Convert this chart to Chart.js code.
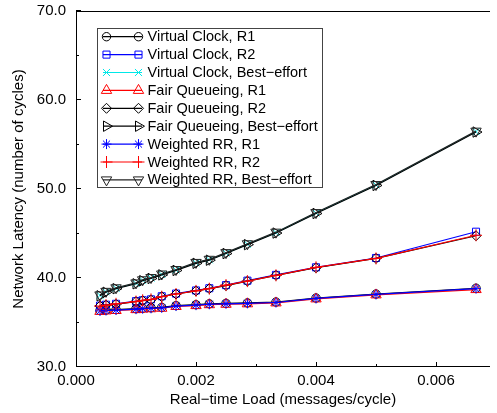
<!DOCTYPE html>
<html><head><meta charset="utf-8">
<script src="https://cdn.jsdelivr.net/npm/chart.js@4/dist/chart.umd.min.js"></script>
<style>html,body{margin:0;padding:0;background:#fff}#wrap{width:497px;height:413px;position:relative}</style>
</head><body><div id="wrap"><canvas id="c" width="497" height="413"></canvas></div>
<script>
// ---- data ----
const loads = [0.0004, 0.0005, 0.000667, 0.001, 0.001111, 0.00125, 0.001429, 0.001667, 0.002, 0.002222, 0.0025, 0.002857, 0.003333, 0.004, 0.005, 0.006667];
const vcR1  = [36.35, 36.4, 36.45, 36.55, 36.6, 36.65, 36.7, 36.9, 37.0, 37.1, 37.15, 37.2, 37.3, 37.75, 38.2, 38.85];
const vcR2  = [36.9, 37.0, 37.1, 37.4, 37.5, 37.6, 37.95, 38.25, 38.6, 38.85, 39.2, 39.7, 40.35, 41.2, 42.25, 45.2];
const vcBE  = [38.05, 38.45, 38.85, 39.4, 39.75, 40.0, 40.4, 40.9, 41.7, 42.05, 42.8, 43.8, 45.1, 47.3, 50.45, 56.45];
const fqR1  = [36.25, 36.3, 36.35, 36.45, 36.5, 36.55, 36.6, 36.8, 36.9, 37.0, 37.05, 37.1, 37.2, 37.65, 38.1, 38.7];
const fqR2  = [36.85, 36.95, 37.05, 37.35, 37.45, 37.55, 37.9, 38.2, 38.55, 38.8, 39.15, 39.65, 40.3, 41.15, 42.2, 44.75];
const fqBE  = [38.0, 38.4, 38.8, 39.35, 39.7, 39.95, 40.35, 40.85, 41.65, 42.0, 42.75, 43.75, 45.05, 47.25, 50.4, 56.4];
const wrrR1 = [36.3, 36.35, 36.4, 36.5, 36.55, 36.6, 36.65, 36.85, 36.95, 37.05, 37.1, 37.15, 37.25, 37.7, 38.15, 38.8];
const wrrR2 = [36.85, 36.95, 37.1, 37.35, 37.5, 37.6, 37.9, 38.2, 38.55, 38.8, 39.2, 39.65, 40.3, 41.2, 42.2, 44.8];
const wrrBE = [38.1, 38.5, 38.9, 39.45, 39.8, 40.05, 40.45, 40.95, 41.75, 42.1, 42.85, 43.85, 45.15, 47.35, 50.5, 56.5];
const seriesNames = ['Virtual Clock, R1','Virtual Clock, R2','Virtual Clock, Best\u2212effort',
  'Fair Queueing, R1','Fair Queueing, R2','Fair Queueing, Best\u2212effort',
  'Weighted RR, R1','Weighted RR, R2','Weighted RR, Best\u2212effort'];
const xTicks = [0, 0.002, 0.004, 0.006];
const xMinor = [0.001, 0.003, 0.005];
const yTicks = [30, 40, 50, 60, 70];
const yMinor = [35, 45, 55, 65];
const xTitle = 'Real\u2212time Load (messages/cycle)';
const yTitle = 'Network Latency (number of cycles)';

// ---- styles ----
const FONT = 'Liberation Sans, Arial, Helvetica, sans-serif';
const styles = [
  {c:'#000000', ps:'circle', r:4.2, rot:0},
  {c:'#0000ff', ps:'rect', r:5, rot:0},
  {c:'#00e8e8', ps:'crossRot', r:5, rot:0},
  {c:'#ff0000', ps:'triangle', r:6, rot:0},
  {c:'#000000', ps:'rectRot', r:5, rot:0},
  {c:'#000000', ps:'triangle', r:6, rot:90},
  {c:'#0000ff', ps:'star', r:5, rot:0},
  {c:'#ff0000', ps:'cross', r:6, rot:0},
  {c:'#222222', ps:'triangle', r:6, rot:180}
];
const values = [vcR1, vcR2, vcBE, fqR1, fqR2, fqBE, wrrR1, wrrR2, wrrBE];
const datasets = values.map((v,i)=>({
  label: seriesNames[i],
  data: loads.map((x,j)=>({x:x, y:v[j]})),
  borderColor: styles[i].c,
  backgroundColor: 'rgba(0,0,0,0)',
  pointBorderColor: styles[i].c,
  pointBackgroundColor: 'rgba(0,0,0,0)',
  pointStyle: styles[i].ps,
  pointRadius: styles[i].r,
  pointRotation: styles[i].rot,
  pointBorderWidth: 1,
  borderWidth: 1.2,
  tension: 0,
  fill: false,
  order: 8 - i
}));

const framePlugin = {
  id:'frame',
  beforeDatasetsDraw(chart){
    const ctx = chart.ctx, a = chart.chartArea, xs = chart.scales.x, ys = chart.scales.y;
    ctx.save();
    ctx.strokeStyle = '#000'; ctx.lineWidth = 1;
    ctx.beginPath();
    ctx.moveTo(a.left+0.5, a.top+0.5); ctx.lineTo(a.right, a.top+0.5);
    ctx.moveTo(a.left+0.5, a.top); ctx.lineTo(a.left+0.5, a.bottom);
    ctx.moveTo(a.left, a.bottom-0.5); ctx.lineTo(a.right, a.bottom-0.5);
    xTicks.forEach(v=>{const p=Math.round(xs.getPixelForValue(v))+0.5; ctx.moveTo(p,a.bottom); ctx.lineTo(p,a.bottom-5);});
    xMinor.forEach(v=>{const p=Math.round(xs.getPixelForValue(v))+0.5; ctx.moveTo(p,a.bottom); ctx.lineTo(p,a.bottom-3);});
    yTicks.forEach(v=>{const p=Math.round(ys.getPixelForValue(v))-0.5; ctx.moveTo(a.left,p); ctx.lineTo(a.left+5,p);});
    yMinor.forEach(v=>{const p=Math.round(ys.getPixelForValue(v))-0.5; ctx.moveTo(a.left,p); ctx.lineTo(a.left+3,p);});
    ctx.stroke();
    ctx.restore();
  },
  afterDraw(chart){
    const ctx = chart.ctx;
    const bx=97.5, by=28.5, bw=225, bh=159, rowH=17.9, y0=36.7;
    ctx.save();
    ctx.fillStyle='#fff'; ctx.fillRect(bx,by,bw,bh);
    ctx.strokeStyle='#444'; ctx.lineWidth=1; ctx.strokeRect(bx,by,bw,bh);
    chart.data.datasets.forEach((ds,i)=>{
      const y = y0 + i*rowH;
      ctx.strokeStyle = ds.borderColor; ctx.lineWidth = ds.borderWidth;
      ctx.beginPath(); ctx.moveTo(103,y); ctx.lineTo(142,y); ctx.stroke();
      [106.5,138.5].forEach(px=>{
        ctx.strokeStyle = ds.pointBorderColor; ctx.fillStyle='rgba(0,0,0,0)'; ctx.lineWidth=1;
        Chart.helpers.drawPoint(ctx,{pointStyle:ds.pointStyle, radius:ds.pointRadius, rotation:ds.pointRotation, borderWidth:1}, px, y);
      });
      ctx.fillStyle='#000'; ctx.font='14.5px '+FONT; ctx.textBaseline='middle'; ctx.textAlign='left';
      ctx.fillText(ds.label, 147.5, y+0.5);
    });
    ctx.restore();
  }
};

const tickFont = {family: FONT, size: 15};
new Chart(document.getElementById('c').getContext('2d'), {
  type:'line',
  data:{datasets: datasets},
  options:{
    responsive:false, animation:false, devicePixelRatio:1,
    layout:{padding:{top:11,right:0,left:0,bottom:0}},
    plugins:{legend:{display:false}, tooltip:{enabled:false}},
    scales:{
      x:{type:'linear', min:0, max:0.0069,
        afterBuildTicks: s=>{ s.ticks = xTicks.map(v=>({value:v})); },
        afterFit: s=>{ s.height = 46; s.paddingLeft = 0; s.paddingRight = 0; },
        ticks:{callback:v=>Number(v).toFixed(3), font:tickFont, color:'#000', padding:5, maxRotation:0, autoSkip:false},
        grid:{display:false, drawTicks:false}, border:{display:false},
        title:{display:true, text:xTitle, font:tickFont, color:'#000', padding:{top:0,bottom:4}}
      },
      y:{type:'linear', min:30, max:70,
        afterBuildTicks: s=>{ s.ticks = yTicks.map(v=>({value:v})); },
        afterFit: s=>{ s.width = 76; s.paddingTop = 0; s.paddingBottom = 0; },
        ticks:{callback:v=>Number(v).toFixed(1), font:tickFont, color:'#000', padding:10, autoSkip:false},
        grid:{display:false, drawTicks:false}, border:{display:false},
        title:{display:true, text:yTitle, font:tickFont, color:'#000', padding:{top:10,bottom:0}}
      }
    }
  },
  plugins:[framePlugin]
});
</script></body></html>
